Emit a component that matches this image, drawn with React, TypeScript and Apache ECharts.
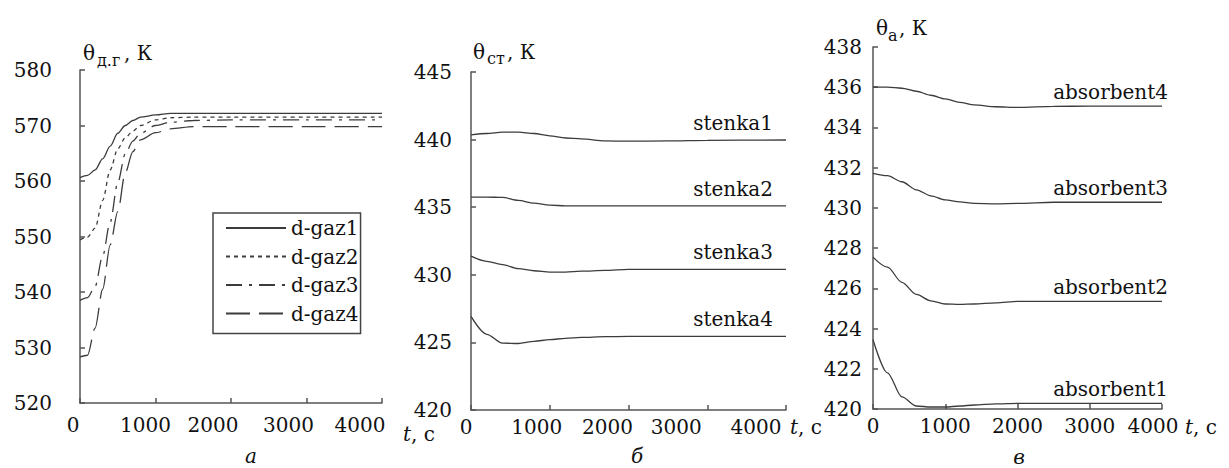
import React, { useEffect, useRef } from "react";
import * as echarts from "echarts";

const FONT = "DejaVu Serif";
const FS = 20;
const LINE = "#3c3c3c";
const AXIS = "#555";

// Panel a: flue gas temperature
const tA = [0, 100, 200, 300, 400, 500, 600, 700, 800, 1000, 1200, 1500, 2000, 3000, 4000];
const gaz1 = [560.6, 561.0, 562.0, 564.0, 566.3, 568.6, 570.0, 570.9, 571.5, 571.9, 572.2, 572.2, 572.2, 572.2, 572.2];
const gaz2 = [549.4, 549.9, 551.5, 556.5, 562.0, 565.8, 567.8, 569.0, 570.0, 571.0, 571.4, 571.5, 571.5, 571.5, 571.5];
const gaz3 = [538.5, 539.0, 541.0, 546.5, 552.6, 559.7, 564.9, 567.2, 568.6, 570.0, 570.6, 570.9, 571.0, 571.0, 571.0];
const gaz4 = [528.3, 528.6, 533.5, 540.5, 548.5, 554.5, 561.5, 565.3, 567.4, 568.7, 569.4, 569.8, 569.8, 569.8, 569.8];
const gazNames = ["d-gaz1", "d-gaz2", "d-gaz3", "d-gaz4"];

// Panel б: wall temperature
const tB = [0, 200, 400, 600, 800, 1000, 1200, 1400, 1700, 2000, 2500, 3000, 4000];
const stenka1 = [440.35, 440.45, 440.55, 440.55, 440.45, 440.28, 440.12, 440.05, 439.9, 439.88, 439.9, 439.95, 439.97];
const stenka2 = [435.75, 435.75, 435.72, 435.5, 435.3, 435.15, 435.1, 435.1, 435.1, 435.1, 435.1, 435.1, 435.1];
const stenka3 = [431.38, 431.0, 430.75, 430.45, 430.3, 430.2, 430.2, 430.27, 430.32, 430.4, 430.4, 430.4, 430.4];
const stenka4 = [426.92, 425.6, 424.95, 424.92, 425.08, 425.2, 425.3, 425.37, 425.42, 425.44, 425.44, 425.44, 425.44];
const stenkaNames = ["stenka1", "stenka2", "stenka3", "stenka4"];

// Panel в: absorbent temperature
const tC = [0, 200, 400, 600, 800, 1000, 1200, 1400, 1700, 2000, 2500, 3000, 4000];
const absorbent4 = [436.0, 436.0, 435.95, 435.8, 435.6, 435.42, 435.25, 435.12, 435.03, 435.0, 435.05, 435.06, 435.06];
const absorbent3 = [431.72, 431.6, 431.3, 430.9, 430.6, 430.4, 430.3, 430.22, 430.2, 430.22, 430.28, 430.28, 430.28];
const absorbent2 = [427.55, 427.05, 426.3, 425.7, 425.38, 425.22, 425.2, 425.22, 425.28, 425.35, 425.35, 425.35, 425.35];
const absorbent1 = [423.45, 421.8, 420.6, 420.15, 420.1, 420.1, 420.15, 420.2, 420.25, 420.28, 420.28, 420.28, 420.28];
const absNames = ["absorbent4", "absorbent3", "absorbent2", "absorbent1"];

// x tick labels (the scanned figure has them shifted left of their ticks)
const xTicks = [0, 1000, 2000, 3000, 4000];
const shiftA = [7, 10, 18, 18, 22];
const shiftB = [5, 13, 21, 31, 30];
const shiftC = [0, 0, 0, 0, 9];

const gazDashes: any[] = ["solid", [4, 4], [16, 7, 3, 7], [24, 9]];

function pts(t: number[], v: number[]) {
  return t.map((x, i) => [x, v[i]]);
}

function axisCommon(gridIndex: number) {
  return {
    gridIndex,
    axisLine: { show: true, onZero: false, lineStyle: { color: AXIS, width: 1.5 } },
    axisTick: { show: true, inside: true, length: 5, lineStyle: { color: AXIS, width: 1.5 } },
    splitLine: { show: false },
  };
}

export default function App() {
  const ref = useRef<HTMLDivElement>(null);
  useEffect(() => {
    if (!ref.current) return;
    const chart = echarts.init(ref.current, null, { renderer: "svg" });
    const labelStyle = { fontFamily: FONT, fontSize: FS, color: "#111" };

    const series: any[] = [];
    [gaz1, gaz2, gaz3, gaz4].forEach((v, i) => {
      series.push({
        type: "line",
        name: gazNames[i],
        xAxisIndex: 0,
        yAxisIndex: 0,
        data: pts(tA, v),
        symbol: "none",
        smooth: 0.3,
        smoothMonotone: "x",
        lineStyle: { color: LINE, width: 1.3, type: gazDashes[i] },
        itemStyle: { color: LINE },
      });
    });
    [stenka1, stenka2, stenka3, stenka4].forEach((v, i) => {
      series.push({
        type: "line",
        name: stenkaNames[i],
        xAxisIndex: 1,
        yAxisIndex: 1,
        data: pts(tB, v),
        symbol: "none",
        smooth: 0.3,
        smoothMonotone: "x",
        lineStyle: { color: LINE, width: 1.3 },
        itemStyle: { color: LINE },
        endLabel: {
          show: true,
          formatter: stenkaNames[i],
          ...labelStyle,
          align: "right",
          verticalAlign: "middle",
          distance: 0,
          offset: [-13, -17],
        },
      });
    });
    [absorbent4, absorbent3, absorbent2, absorbent1].forEach((v, i) => {
      series.push({
        type: "line",
        name: absNames[i],
        xAxisIndex: 2,
        yAxisIndex: 2,
        data: pts(tC, v),
        symbol: "none",
        smooth: 0.3,
        smoothMonotone: "x",
        lineStyle: { color: LINE, width: 1.3 },
        itemStyle: { color: LINE },
        endLabel: {
          show: true,
          formatter: absNames[i],
          ...labelStyle,
          align: "right",
          verticalAlign: "middle",
          distance: 0,
          offset: [6, -14],
        },
      });
    });

    const txt = (text: string, x: number, y: number, opts: any = {}) => ({
      type: "text",
      x,
      y,
      silent: true,
      style: {
        text,
        fill: "#111",
        fontFamily: FONT,
        fontSize: opts.size || FS,
        fontStyle: opts.italic ? "italic" : "normal",
        align: opts.align || "left",
        verticalAlign: "middle",
        rich: opts.rich,
      },
    });
    const tName = (x: number, y: number) =>
      txt("{i|t}, с", x, y, {
        rich: {
          i: { fontStyle: "italic", fontFamily: FONT, fontSize: FS, fill: "#111" },
        },
      });

    const xLabel = (shift: number[]) => {
      const rich: any = {};
      xTicks.forEach((t, i) => {
        rich["p" + t] = { ...labelStyle, padding: [0, shift[i] * 2, 0, 0] };
      });
      return {
        ...labelStyle,
        formatter: (v: number) => `{p${v}|${v}}`,
        rich,
      };
    };

    chart.setOption({
      animation: false,
      backgroundColor: "#fff",
      textStyle: { fontFamily: FONT },
      grid: [
        { left: 80, top: 70, width: 302, height: 333 },
        { left: 471, top: 72, width: 315, height: 338 },
        { left: 873, top: 47, width: 289, height: 362 },
      ],
      xAxis: [shiftA, shiftB, shiftC].map((s, g) => ({
        ...axisCommon(g),
        type: "value",
        min: 0,
        max: 4000,
        interval: 1000,
        axisLabel: { ...xLabel(s), margin: g === 0 ? 12 : 7 },
      })),
      yAxis: [
        {
          ...axisCommon(0),
          type: "value",
          min: 520,
          max: 580,
          interval: 10,
          axisLabel: { ...labelStyle, margin: 28 },
        },
        {
          ...axisCommon(1),
          type: "value",
          min: 420,
          max: 445,
          interval: 5,
          axisLabel: { ...labelStyle, margin: 19 },
        },
        {
          ...axisCommon(2),
          type: "value",
          min: 420,
          max: 438,
          interval: 2,
          axisLabel: { ...labelStyle, margin: 11 },
        },
      ],
      legend: {
        data: gazNames,
        orient: "vertical",
        left: 213,
        top: 213,
        itemWidth: 60,
        itemHeight: 14,
        itemGap: 8.5,
        padding: [5, 2, 10, 12],
        borderColor: "#444",
        borderWidth: 1.5,
        itemStyle: { opacity: 0 },
        textStyle: { ...labelStyle },
        selectedMode: false,
      },
      series,
      graphic: [
        txt("θ", 83, 53),
        txt("д.г", 97, 60, { size: 16 }),
        txt(", К", 124, 53),
        txt("θ", 473, 52),
        txt("ст", 487, 58, { size: 16 }),
        txt(", К", 507, 52),
        txt("θ", 876, 28),
        txt("а", 888, 35, { size: 16 }),
        txt(", К", 899, 28),
        tName(403, 434),
        tName(790, 427),
        tName(1185, 427),
        txt("а", 251, 456, { italic: true, align: "center" }),
        txt("б", 637, 456, { italic: true, align: "center" }),
        txt("в", 1019, 457, { italic: true, align: "center" }),
      ],
    });
    return () => chart.dispose();
  }, []);
  return (
    <div
      ref={ref}
      style={{ position: "absolute", left: 0, top: 0, width: 1229, height: 468, background: "#fff" }}
    />
  );
}
